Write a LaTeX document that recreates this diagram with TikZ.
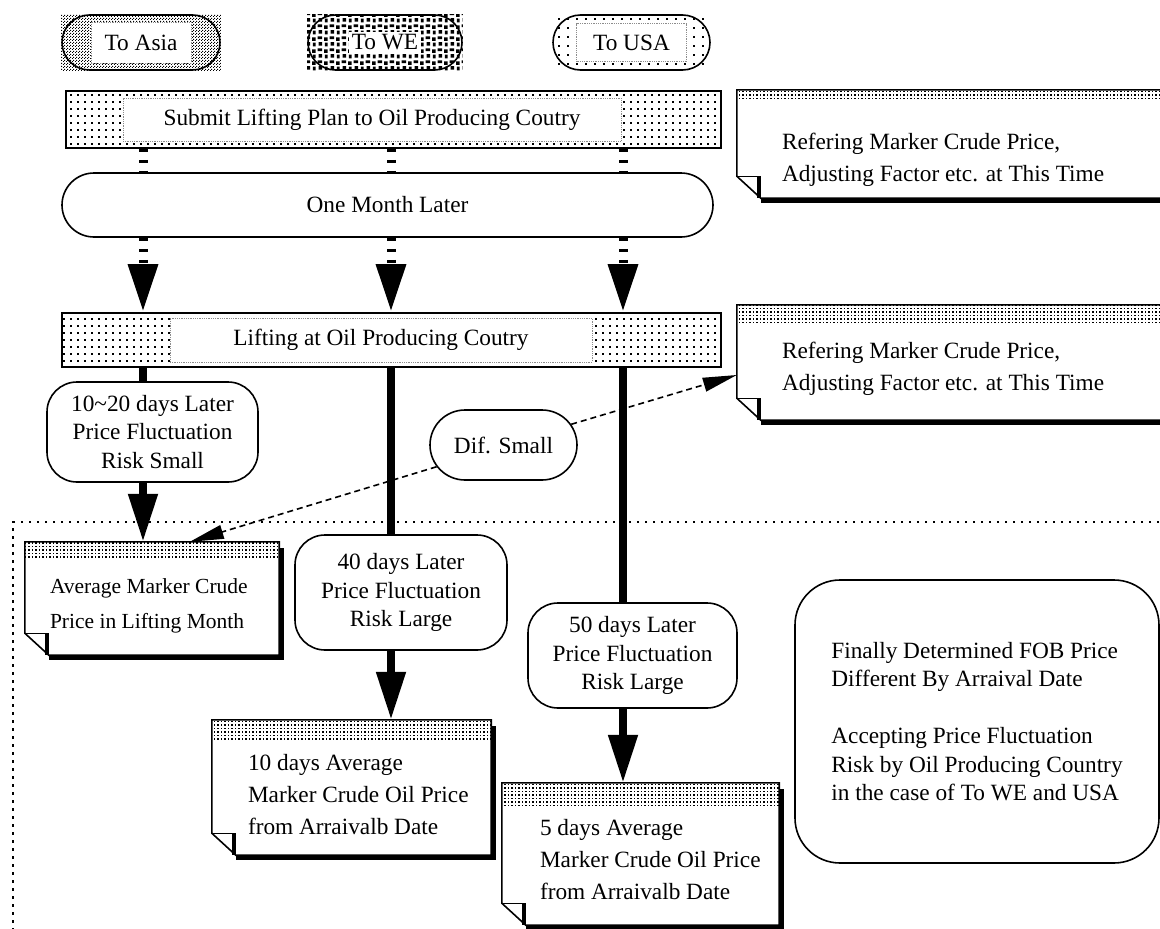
\documentclass[tikz,border=0pt]{standalone}
\usepackage{fontspec}
\setmainfont{Liberation Serif}
\usetikzlibrary{arrows.meta, shapes.misc, patterns, backgrounds}
\pgfdeclarepatternformonly{sparsedots}{\pgfqpoint{-1pt}{-1pt}}{\pgfqpoint{8pt}{8pt}}{\pgfqpoint{7pt}{7pt}}{%
  \pgfpathrectangle{\pgfqpoint{0pt}{0pt}}{\pgfqpoint{1.8pt}{1.8pt}}\pgfusepath{fill}}
\pgfdeclarepatternformonly{finedots}{\pgfqpoint{-1pt}{-1pt}}{\pgfqpoint{4.5pt}{4.5pt}}{\pgfqpoint{3.5pt}{3.5pt}}{%
  \pgfpathrectangle{\pgfqpoint{0pt}{0pt}}{\pgfqpoint{1.6pt}{1.6pt}}\pgfusepath{fill}}
\pgfdeclarepatternformonly{finecheck}{\pgfqpoint{0pt}{0pt}}{\pgfqpoint{3pt}{3pt}}{\pgfqpoint{3pt}{3pt}}{%
  \pgfpathrectangle{\pgfqpoint{0pt}{0pt}}{\pgfqpoint{1.2pt}{1.2pt}}%
  \pgfpathrectangle{\pgfqpoint{1.5pt}{1.5pt}}{\pgfqpoint{1.2pt}{1.2pt}}\pgfusepath{fill}}
\pgfdeclarepatternformonly{widedots}{\pgfqpoint{-1pt}{-1pt}}{\pgfqpoint{10pt}{10pt}}{\pgfqpoint{9pt}{9pt}}{%
  \pgfpathrectangle{\pgfqpoint{0pt}{0pt}}{\pgfqpoint{2pt}{2pt}}\pgfusepath{fill}}
\pgfdeclarepatternformonly{blocks}{\pgfqpoint{0pt}{0pt}}{\pgfqpoint{12pt}{12pt}}{\pgfqpoint{12pt}{12pt}}{%
  \pgfpathrectangle{\pgfqpoint{0pt}{0pt}}{\pgfqpoint{4pt}{4pt}}%
  \pgfpathrectangle{\pgfqpoint{6pt}{2pt}}{\pgfqpoint{5pt}{3pt}}%
  \pgfpathrectangle{\pgfqpoint{1pt}{7pt}}{\pgfqpoint{3pt}{4pt}}%
  \pgfpathrectangle{\pgfqpoint{7pt}{8pt}}{\pgfqpoint{4pt}{3.5pt}}%
  \pgfusepath{fill}}
\newcommand\docfont{\fontsize{23.3}{32}\selectfont}
\tikzset{
  box/.style={draw, line width=1.6pt, align=center, inner sep=0pt},
  pill/.style={box, rounded rectangle, minimum height=55pt},
  plate/.style={box, rectangle, pattern=sparsedots},
  bubble/.style={box, rectangle, rounded corners=30pt},
  hole/.style={fill=white, draw=black!45, densely dotted, line width=.8pt, inner sep=0pt},
  doc/.style={rectangle, inner sep=0pt},
  doctxt/.style={anchor=north west, align=left, inner sep=0pt, font=\docfont},
  bar/.style={line width=8pt},
  dbar/.style={line width=9pt, dash pattern=on 3.5pt off 7.5pt},
  bigtip/.style={-{Triangle[width=28pt,length=48pt]}},
  link/.style={line width=1.6pt, dash pattern=on 6pt off 4pt, -{Triangle[width=14pt,length=34pt]}}
}

\begin{document}
\begin{tikzpicture}[x=1pt, y=-1pt, font=\fontsize{23.3}{28.5}\selectfont]
  \useasboundingbox (0,0) rectangle (1160,929);
  \draw[line width=2pt, dash pattern=on 2.5pt off 5.5pt] (1175,522) -| (13,940);
  \coordinate (c1) at (143,0);
  \coordinate (c2) at (391,0);
  \coordinate (c3) at (623,0);

  % destinations
  \node[pill, minimum width=158pt, label={[hole, minimum width=100pt, minimum height=41pt]center:To Asia}] (asia) at (141,42.5) {};
  \node[pill, minimum width=154pt, label={[hole, draw=none, inner sep=3pt]center:To WE}] (we) at (385,42.5) {};
  \node[pill, minimum width=157pt, label={[hole, minimum width=110pt, minimum height=38pt]center:To USA}] (usa) at (631.5,42.5) {};
  \begin{scope}[on background layer]
    \foreach \p/\pat in {asia/finecheck, we/blocks, usa/widedots}
      \fill[pattern=\pat] (\p.west |- \p.north) rectangle (\p.east |- \p.south);
  \end{scope}

  \node[plate, minimum width=655pt, minimum height=57pt, label={[hole, minimum width=498pt, minimum height=43pt, xshift=-21.5pt]center:Submit Lifting Plan to Oil Producing Coutry}] (submit) at (393.5,119.5) {};
  \node[box, rounded rectangle, minimum width=651pt, minimum height=64pt] (onemonth) at (387.5,205) {One Month Later};
  \node[plate, minimum width=659pt, minimum height=54pt, label={[hole, minimum width=422pt, minimum height=44pt, xshift=-10.5pt]center:Lifting at Oil Producing Coutry}] (lifting) at (391.5,340) {};

  % documents
  \node[doc, minimum width=428pt, minimum height=108pt, label={[doctxt, xshift=45pt, yshift=-43pt]north west:Refering Marker Crude Price,\\Adjusting Factor etc. at This Time}] (ref1) at (951,144) {};
  \node[doc, minimum width=428pt, minimum height=115pt, label={[doctxt, xshift=45pt, yshift=-37pt]north west:Refering Marker Crude Price,\\Adjusting Factor etc. at This Time}] (ref2) at (951,362.5) {};
  \node[doc, minimum width=254pt, minimum height=113pt, label={[doctxt, font=\fontsize{21.5}{35}\selectfont, xshift=25pt, yshift=-37pt]north west:Average Marker Crude\\Price in Lifting Month}] (avg) at (152,598.5) {};
  \node[doc, minimum width=279pt, minimum height=135pt, label={[doctxt, xshift=36pt, yshift=-34pt]north west:10 days Average\\Marker Crude Oil Price\\from Arraivalb Date}] (ten) at (351.5,787.5) {};
  \node[doc, minimum width=277pt, minimum height=142pt, label={[doctxt, xshift=38pt, yshift=-36pt]north west:5 days Average\\Marker Crude Oil Price\\from Arraivalb Date}] (five) at (640.5,854) {};
  \foreach \d/\b in {ref1/10, ref2/18, avg/16, ten/22, five/24} {
    \fill[pattern=finedots] (\d.north west) rectangle ([yshift=-\b]\d.north east);
    \draw[line width=5pt] ([xshift=24pt,yshift=-2.5pt]\d.south west) -- ([xshift=2.5pt,yshift=-2.5pt]\d.south east) -- ([xshift=2.5pt,yshift=-6pt]\d.north east);
    \draw[line width=1.6pt] (\d.north west) -- (\d.north east) -- (\d.south east) -- ([xshift=24pt]\d.south west) -- ([yshift=22pt]\d.south west) -- cycle;
    \draw[line width=1.2pt] ([yshift=22pt]\d.south west) -- ([xshift=24pt,yshift=22pt]\d.south west);
    \draw[line width=4pt] ([xshift=22pt,yshift=22pt]\d.south west) -- ([xshift=22pt]\d.south west);
  }

  % lead times
  \node[bubble, minimum width=211pt, minimum height=100pt] (d1020) at (152.5,432) {10\textasciitilde20 days Later\\Price Fluctuation\\Risk Small};
  \node[box, rounded rectangle, minimum width=147pt, minimum height=70pt] (dif) at (503.5,445) {Dif. Small};
  \node[bubble, minimum width=212pt, minimum height=115pt] (d40) at (401,592.5) {40 days Later\\Price Fluctuation\\Risk Large};
  \node[bubble, minimum width=209pt, minimum height=105pt] (d50) at (632.5,655.5) {50 days Later\\Price Fluctuation\\Risk Large};
  \node[bubble, rounded corners=45pt, minimum width=364pt, minimum height=283pt, align=left] (final) at (977,721.5)
    {Finally Determined FOB Price\\Different By Arraival Date\\[28.5pt]Accepting Price Fluctuation\\Risk by Oil Producing Country\\in the case of To WE and USA};

  \foreach \c in {c1,c2,c3} {
    \draw[dbar] (submit.south -| \c) -- (onemonth.north -| \c);
    \draw[dbar, bigtip] (onemonth.south -| \c) -- (lifting.north -| \c);
  }
  \foreach \c/\b/\d in {c1/d1020/avg, c2/d40/ten, c3/d50/five} {
    \draw[bar] (lifting.south -| \c) -- (\b.north -| \c);
    \draw[bar, bigtip] (\b.south -| \c) -- (\d.north -| \c);
  }
  \draw[link] (dif.198) -- ([xshift=165pt]avg.north west);
  \draw[link] (dif.17) -- ([yshift=-12.5pt]ref2.west);
\end{tikzpicture}
\end{document}
